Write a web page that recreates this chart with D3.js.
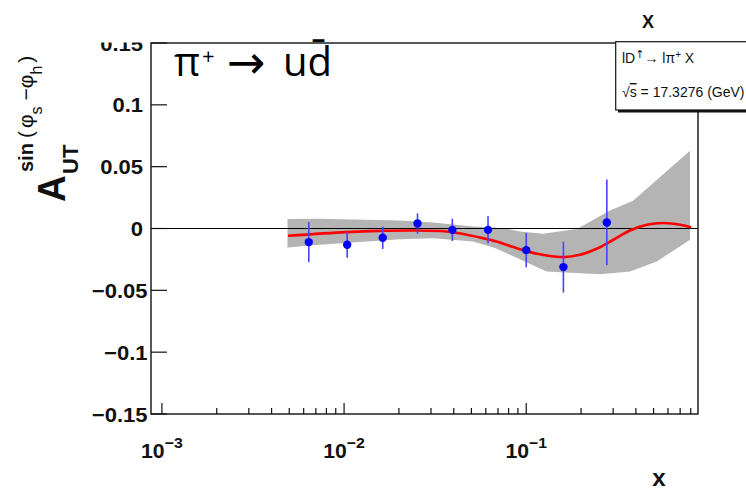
<!DOCTYPE html>
<html>
<head>
<meta charset="utf-8">
<script src="https://cdn.jsdelivr.net/npm/d3@7"></script>
<style>
  html, body { margin: 0; padding: 0; background: #fff; }
  svg { display: block; }
</style>
</head>
<body>
<svg id="chart" width="746" height="493"></svg>
<script>
// Sivers asymmetry A_UT^{sin(phi_s - phi_h)} for pi+ versus Bjorken x
const xBins   = [0.0064, 0.0104, 0.0163, 0.0253, 0.0393, 0.0617, 0.100, 0.160, 0.277];
const asym    = [-0.0110, -0.0132, -0.0075, 0.0040, -0.0011, -0.0011, -0.0175, -0.0312, 0.0049];
const asymErr = [0.0162, 0.0105, 0.0090, 0.0082, 0.0090, 0.0110, 0.0139, 0.0206, 0.0347];

// model curve
const fitX = [0.00492, 0.0103, 0.0157, 0.0239, 0.0365, 0.0451, 0.0557, 0.0687, 0.0849, 0.1048,
              0.1294, 0.1632, 0.1973, 0.2438, 0.3009, 0.3713, 0.4589, 0.5667, 0.6995, 0.8041];
const fitY = [-0.0059, -0.0029, -0.0019, -0.0016, -0.0024, -0.0045, -0.0073, -0.0105, -0.0150, -0.0191,
              -0.0218, -0.0231, -0.0213, -0.0164, -0.0091, -0.0016, 0.0030, 0.0044, 0.0030, 0.0008];

// model uncertainty band (upper and lower edges)
const bandUpX = [0.00489, 0.00735, 0.0202, 0.0308, 0.0511, 0.0764, 0.0923, 0.1235, 0.1899, 0.2884, 0.3856, 0.7930];
const bandUpY = [0.0076, 0.0078, 0.0065, 0.0049, 0.0016, 0.0002, -0.0024, -0.0043, -0.0005, 0.0146, 0.0224, 0.0628];
const bandLoX = [0.00489, 0.00735, 0.0202, 0.0308, 0.0511, 0.0673, 0.0867, 0.1294, 0.2541, 0.3713, 0.5205, 0.7930];
const bandLoY = [-0.0154, -0.0132, -0.0086, -0.0078, -0.0105, -0.0158, -0.0231, -0.0348, -0.0369, -0.0348, -0.0267, -0.0091];

const yTickValues = [-0.15, -0.1, -0.05, 0, 0.05, 0.1, 0.15];
const yTickLabels = ["\u22120.15", "\u22120.1", "\u22120.05", "0", "0.05", "0.1", "0.15"];
const xDecades = [1e-3, 1e-2, 1e-1];
const xDecadeExp = ["\u22123", "\u22122", "\u22121"];

const svg = d3.select("#chart");
const m = { left: 151, right: 698, top: 43, bottom: 414 };

const x = d3.scaleLog().domain([Math.pow(10, -3.06), Math.pow(10, -0.057)]).range([m.left, m.right]);
const y = d3.scaleLinear().domain([-0.15, 0.15]).range([m.bottom, m.top]);

const ROOTFONT = "'Liberation Sans', Arial, Helvetica, sans-serif";

// band
const bandPts = bandUpX.map((v, i) => [x(v), y(bandUpY[i])])
  .concat(bandLoX.map((v, i) => [x(v), y(bandLoY[i])]).reverse());
svg.append("path")
  .attr("d", d3.line()(bandPts) + "Z")
  .attr("fill", "#b4b4b4");

// zero line
svg.append("line")
  .attr("x1", m.left).attr("x2", m.right)
  .attr("y1", y(0)).attr("y2", y(0))
  .attr("stroke", "#000").attr("stroke-width", 1.2);

// model curve
svg.append("path")
  .datum(fitX.map((v, i) => [v, fitY[i]]))
  .attr("d", d3.line().x(d => x(d[0])).y(d => y(d[1])).curve(d3.curveCatmullRom))
  .attr("fill", "none").attr("stroke", "#ff0000").attr("stroke-width", 2.6);

// data points with error bars
const pts = svg.append("g");
xBins.forEach((v, i) => {
  pts.append("line")
    .attr("x1", x(v)).attr("x2", x(v))
    .attr("y1", y(asym[i] - asymErr[i])).attr("y2", y(asym[i] + asymErr[i]))
    .attr("stroke", "#4444ff").attr("stroke-width", 1.6);
  pts.append("circle")
    .attr("cx", x(v)).attr("cy", y(asym[i])).attr("r", 4.2)
    .attr("fill", "#0000ff");
});

// frame
svg.append("rect")
  .attr("x", m.left).attr("y", m.top)
  .attr("width", m.right - m.left).attr("height", m.bottom - m.top)
  .attr("fill", "none").attr("stroke", "#111").attr("stroke-width", 1.4);

// y ticks and labels
const yAxis = svg.append("g");
yTickValues.forEach((v, i) => {
  yAxis.append("line")
    .attr("x1", m.left).attr("x2", m.left + 16)
    .attr("y1", y(v)).attr("y2", y(v))
    .attr("stroke", "#111").attr("stroke-width", 1.2);
  const ax = v < 0 ? 147.5 : 143;
  yAxis.append("text")
    .attr("transform", `translate(${ax},${y(v) + 7.5}) scale(1.1,1)`)
    .attr("text-anchor", "end")
    .attr("font-family", ROOTFONT).attr("font-weight", "bold").attr("font-size", 20)
    .attr("fill", "#111")
    .text(yTickLabels[i]);
});
// the top label is trimmed along the frame's top edge
svg.append("rect").attr("x", 80).attr("y", 0).attr("width", 70).attr("height", y(0.15) - 0.5).attr("fill", "#fff");

// x ticks
const xAxis = svg.append("g");
const x1 = x.domain()[1];
x.ticks().filter(t => t >= 1e-3 - 1e-12 && t <= x1).forEach(t => {
  const major = xDecades.some(d => Math.abs(d - t) < d * 1e-6);
  xAxis.append("line")
    .attr("x1", x(t)).attr("x2", x(t))
    .attr("y1", m.bottom).attr("y2", m.bottom - (major ? 11 : 6))
    .attr("stroke", "#111").attr("stroke-width", 1.2);
});
xDecades.forEach((d, i) => {
  const t = xAxis.append("text")
    .attr("transform", `translate(${x(d)},458) scale(1.06,1)`)
    .attr("text-anchor", "middle")
    .attr("font-family", ROOTFONT).attr("font-weight", "bold").attr("font-size", 20)
    .attr("fill", "#111");
  t.append("tspan").text("10");
  t.append("tspan").attr("dy", -10).attr("font-size", 15).text(xDecadeExp[i]);
});

// axis titles
svg.append("text")
  .attr("transform", "translate(659,486) scale(1.05,1)")
  .attr("text-anchor", "middle")
  .attr("font-family", ROOTFONT).attr("font-weight", "bold").attr("font-size", 23)
  .attr("fill", "#111").text("x");

const yl = svg.append("g").attr("transform", "translate(65,202) rotate(-90)")
  .attr("font-family", ROOTFONT).attr("fill", "#111");
yl.append("text").attr("x", 0).attr("y", 0).attr("font-weight", "bold").attr("font-size", 37)
  .attr("transform", "scale(1,1.06)").text("A");
yl.append("text").attr("x", 28).attr("y", 13).attr("font-weight", "bold").attr("font-size", 22).text("UT");
const sup = yl.append("text").attr("x", 30).attr("y", -32).attr("font-size", 21);
sup.append("tspan").attr("font-weight", "bold").attr("font-size", 20).text("sin");
sup.append("tspan").attr("dx", 5).text("(");
sup.append("tspan").attr("dx", 3).text("\u03c6");
sup.append("tspan").attr("dy", 9).attr("font-size", 16).text("s");
sup.append("tspan").attr("dy", -9).attr("dx", 6).text("\u2212\u03c6");
sup.append("tspan").attr("dy", 9).attr("font-size", 16).text("h");
sup.append("tspan").attr("dy", -9).attr("dx", 3).text(")");

// info box with shadow
svg.append("rect").attr("x", 618).attr("y", 44).attr("width", 140).attr("height", 68.5).attr("fill", "#111");
svg.append("rect").attr("x", 615.7).attr("y", 41.7).attr("width", 140).attr("height", 68.3)
  .attr("fill", "#fff").attr("stroke", "#111").attr("stroke-width", 1.2);
svg.append("text").attr("x", 648).attr("y", 28).attr("text-anchor", "middle")
  .attr("font-family", ROOTFONT).attr("font-weight", "bold").attr("font-size", 18)
  .attr("fill", "#111").text("X");
const l1 = svg.append("text").attr("x", 622).attr("y", 63)
  .attr("font-family", ROOTFONT).attr("font-size", 14).attr("fill", "#111");
l1.append("tspan").text("lD");
l1.append("tspan").attr("dy", -5).attr("font-size", 11)
  .attr("font-family", "'DejaVu Sans', sans-serif").text("\u2191");
l1.append("tspan").attr("dy", 5).text("\u2192 l\u03c0");
l1.append("tspan").attr("dy", -5).attr("font-size", 10).text("+");
l1.append("tspan").attr("dy", 5).text(" X");
const l2 = svg.append("text").attr("x", 622).attr("y", 97)
  .attr("font-family", ROOTFONT).attr("font-size", 14).attr("fill", "#111");
l2.append("tspan").text("\u221a");
l2.append("tspan").attr("text-decoration", "overline").text("s");
l2.append("tspan").text(" = 17.3276 (GeV)");

// channel title
const tt = svg.append("g").attr("font-family", "'Open Sans', 'Noto Sans', sans-serif").attr("fill", "#000");
tt.append("text").attr("x", 174).attr("y", 76).attr("font-size", 40).text("\u03c0");
tt.append("text").attr("x", 202).attr("y", 64).attr("font-size", 22).text("+");
tt.append("text").attr("x", 227).attr("y", 78).attr("font-size", 46)
  .attr("font-family", "'DejaVu Sans', sans-serif").text("\u2192");
tt.append("text").attr("x", 283).attr("y", 76).attr("font-size", 40).text("ud\u0304");
</script>
</body>
</html>
